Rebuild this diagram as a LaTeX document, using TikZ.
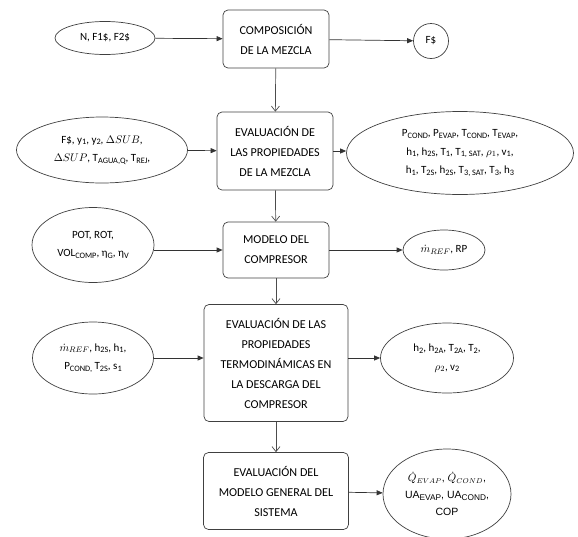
\documentclass[tikz,border=0pt]{standalone}
\usepackage{fontspec}
\setmainfont{Carlito}
\newfontfamily\arialfont{Liberation Sans}
\usetikzlibrary{shapes.geometric,arrows.meta}
\newcommand{\tsub}[1]{\raisebox{-0.3ex}{\fontsize{8.3}{9}\selectfont #1}}
\tikzset{
  proc/.style={draw=black!75,rounded corners=5pt,align=center,inner sep=0pt,
    font=\fontsize{12.1}{20}\selectfont},
  dato/.style={draw=black!75,ellipse,align=center,inner sep=0pt,
    font=\fontsize{11}{18.5}\selectfont},
  flecha/.style={draw=black!80,-{Triangle[length=6pt,width=5pt]}},
  baja/.style={draw=black!70,-{Straight Barb[length=5pt,width=8pt]}}
}
\begin{document}
\begin{tikzpicture}[x=1pt,y=-1pt,line width=0.7pt]
  \useasboundingbox (0,0) rectangle (578,536);
  % bloques del proceso
  \node[proc,minimum width=106pt,minimum height=58pt] (comp) at (276,39) {COMPOSICIÓN\\DE LA MEZCLA};
  \node[proc,minimum width=116pt,minimum height=78pt] (prop) at (275,151) {EVALUACIÓN DE\\LAS PROPIEDADES\\DE LA MEZCLA};
  \node[proc,minimum width=106pt,minimum height=56pt] (modelo) at (276,250) {MODELO DEL\\COMPRESOR};
  \node[proc,minimum width=144pt,minimum height=117pt] (desc) at (276,363) {EVALUACIÓN DE LAS\\PROPIEDADES\\TERMODINÁMICAS EN\\LA DESCARGA DEL\\COMPRESOR};
  \node[proc,minimum width=145pt,minimum height=77pt] (general) at (276,491) {EVALUACIÓN DEL\\MODELO GENERAL DEL\\SISTEMA};
  % entradas
  \node[dato,minimum width=100pt,minimum height=33pt] (inA) at (105,38) {N, F1\$, F2\$};
  \node[dato,minimum width=171pt,minimum height=66pt] (inB) at (102,150) {F\$, y\tsub{1}, y\tsub{2}, $\Delta SUB$,\\$\Delta SUP$, T\tsub{AGUA,Q}, T\tsub{REJ},};
  \node[dato,minimum width=122pt,minimum height=75pt] (inC) at (93,245) {POT, ROT,\\VOL\tsub{COMP}, η\tsub{G}, η\tsub{V}};
  \node[dato,minimum width=121pt,minimum height=72pt] (inD) at (93,358) {$\dot m_{REF}$, h\tsub{2S}, h\tsub{1},\\P\tsub{COND,} T\tsub{2S}, s\tsub{1}};
  % salidas
  \node[dato,circle,minimum size=35pt] (outA) at (431,41) {F\$};
  \node[dato,minimum width=227pt,minimum height=83pt] (outB) at (460,153) {P\tsub{COND}, P\tsub{EVAP}, T\tsub{COND}, T\tsub{EVAP},\\h\tsub{1}, h\tsub{2S}, T\tsub{1}, T\tsub{1, SAT}, $\rho_1$, v\tsub{1},\\h\tsub{1}, T\tsub{2S}, h\tsub{2S}, T\tsub{3, SAT}, T\tsub{3}, h\tsub{3}};
  \node[dato,minimum width=82pt,minimum height=40pt] (outC) at (444,250) {$\dot m_{REF}$, RP};
  \node[dato,minimum width=133pt,minimum height=70pt] (outD) at (447,358) {h\tsub{2}, h\tsub{2A}, T\tsub{2A}, T\tsub{2},\\$\rho_2$, v\tsub{2}};
  \node[dato,minimum width=128pt,minimum height=90pt,font=\arialfont\fontsize{10.5}{17}\selectfont] (outE) at (447,494) {$\dot Q_{EVAP}$, $\dot Q_{COND}$,\\UA\tsub{EVAP}, UA\tsub{COND},\\COP};
  % conexiones
  \draw[flecha] (inA) -- (comp);
  \draw[flecha] (comp) -- (outA);
  \draw[flecha] (inB) -- (prop);
  \draw[flecha] (prop.east) -- (outB.west |- prop.east);
  \draw[flecha] (inC.east |- modelo.west) -- (modelo.west);
  \draw[flecha] (modelo) -- (outC);
  \draw[flecha] (inD) -- (desc.west |- inD.east);
  \draw[flecha] (desc.east |- outD.west) -- (outD);
  \draw[flecha] (general) -- (outE);
  \draw[baja] (comp) -- (prop);
  \draw[baja] (prop) -- (modelo);
  \draw[baja] (modelo) -- (desc);
  \draw[baja] (desc) -- (general);
\end{tikzpicture}
\end{document}
